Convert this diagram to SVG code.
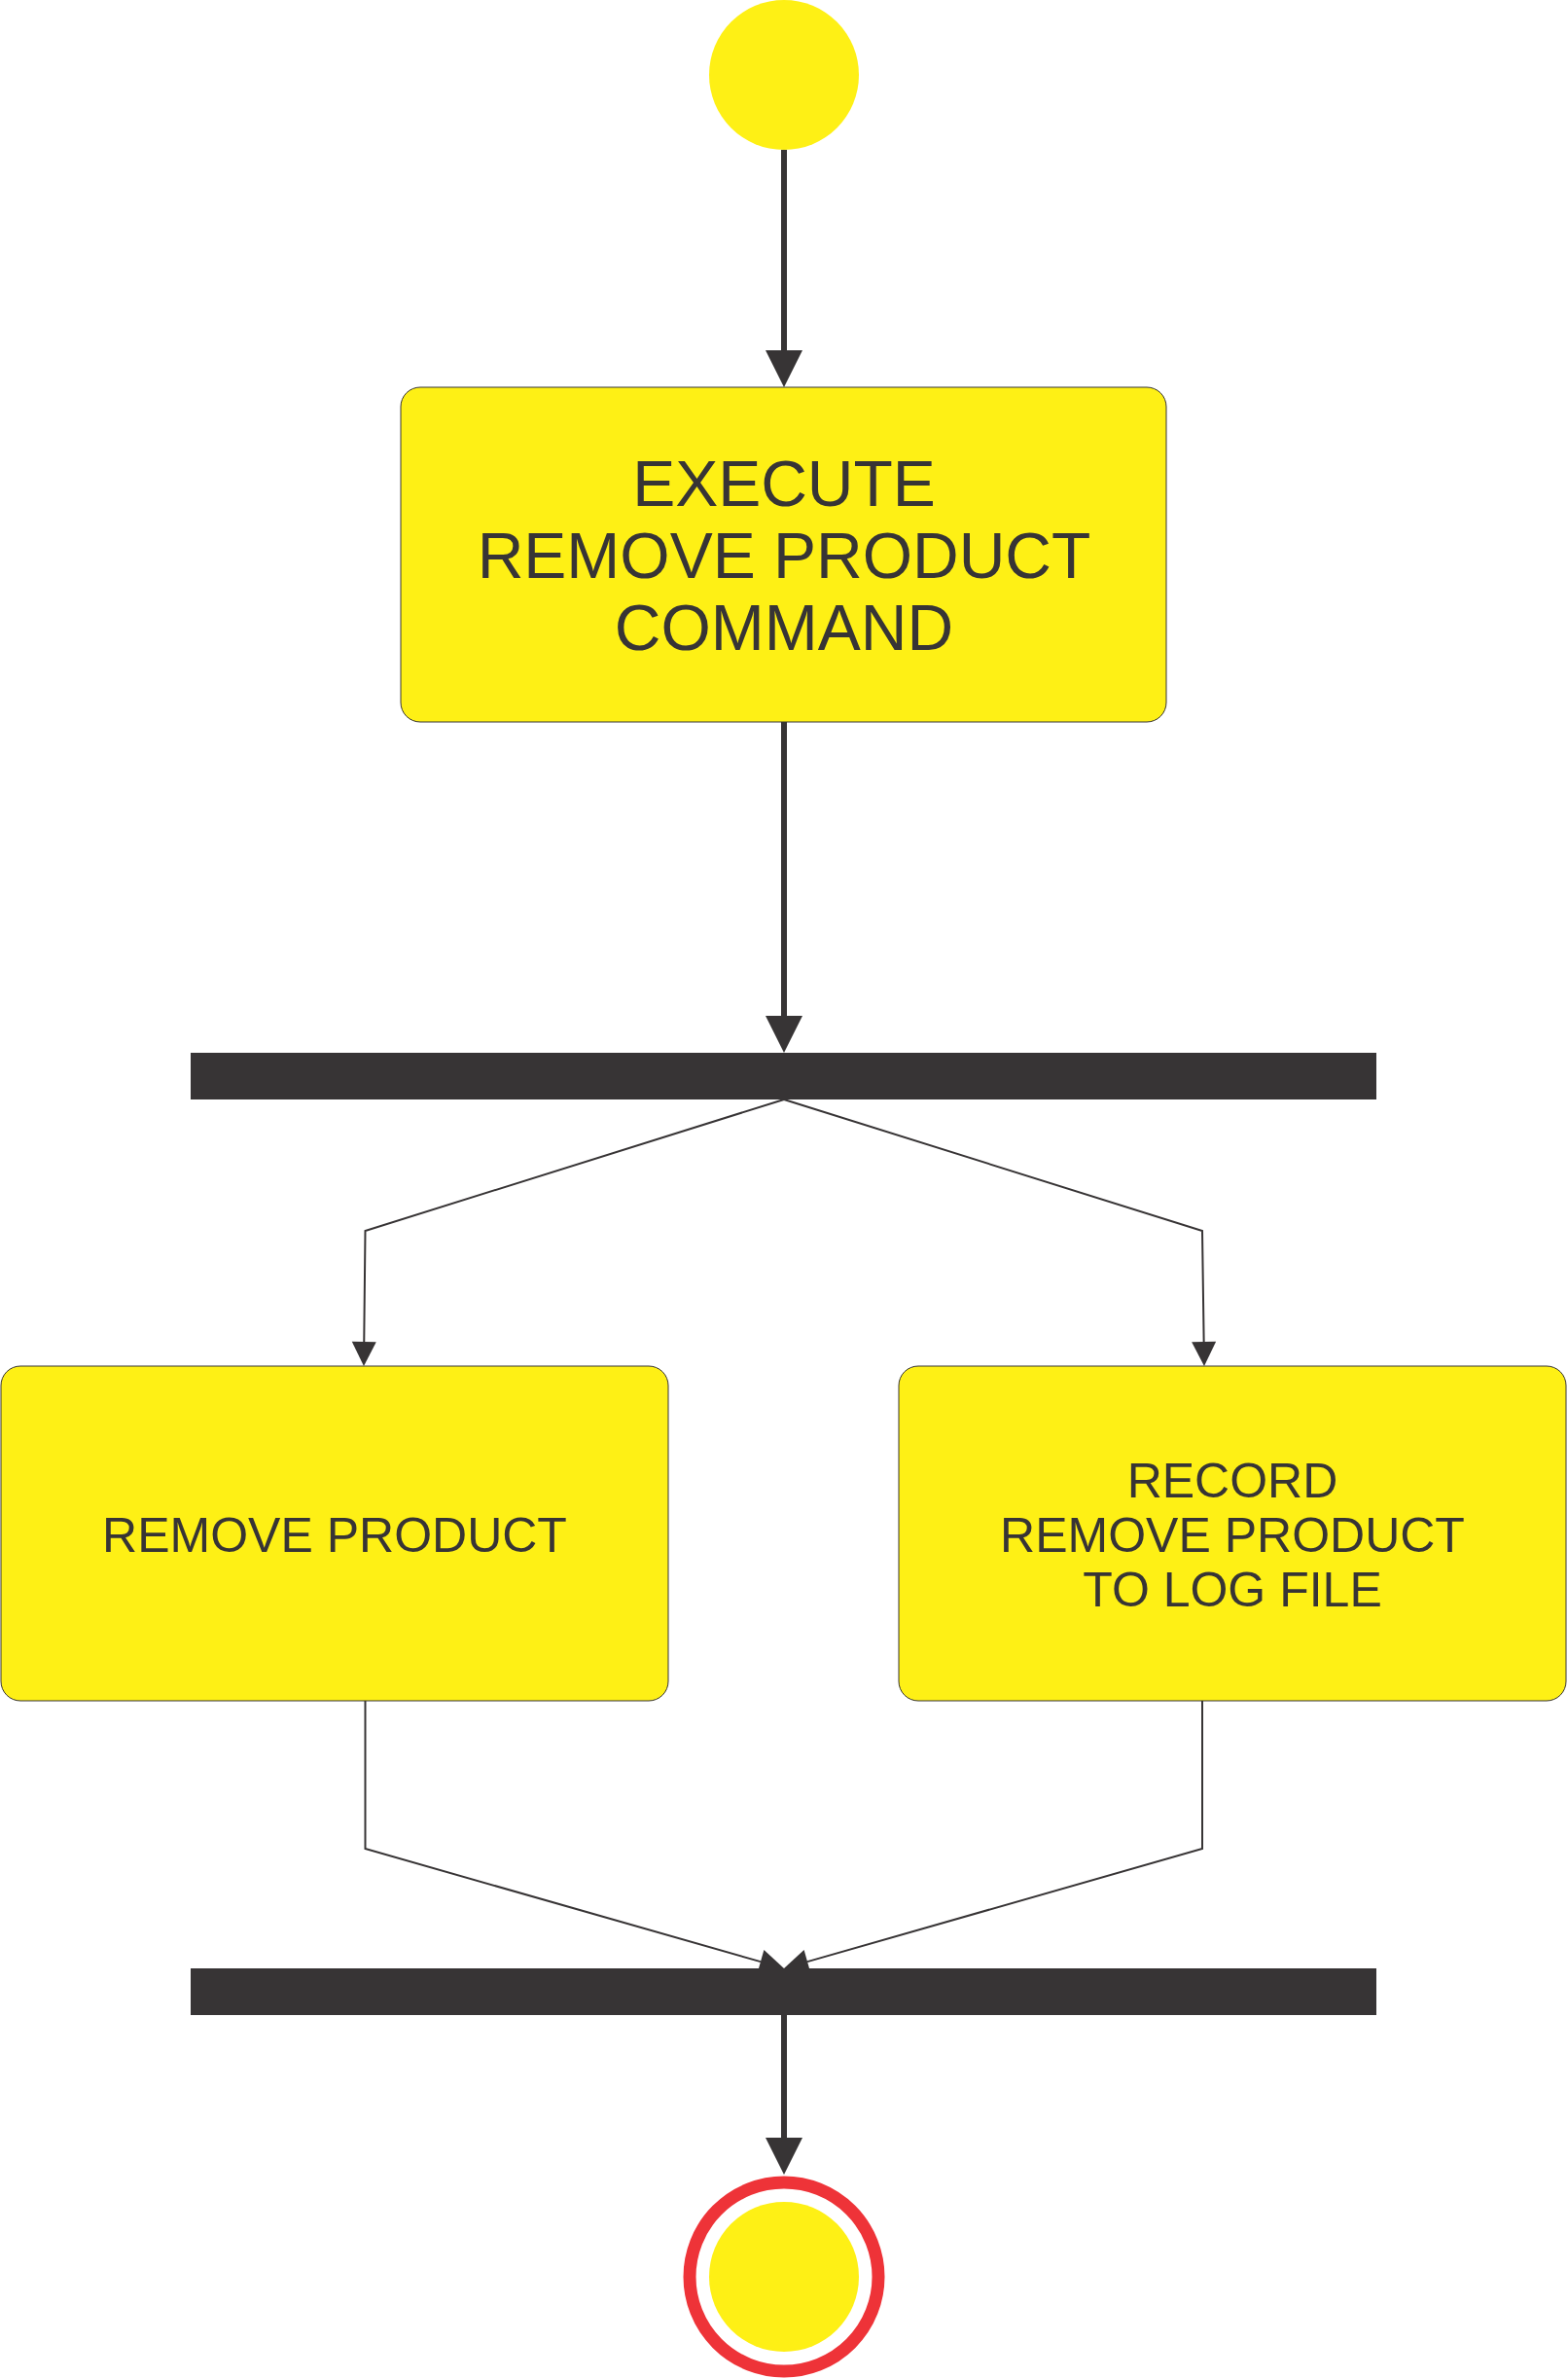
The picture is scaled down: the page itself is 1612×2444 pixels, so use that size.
<svg xmlns="http://www.w3.org/2000/svg" width="1612" height="2444" viewBox="0 0 1612 2444">
  <style>
    .act { fill: #FEF015; stroke: #373435; stroke-width: 1; }
    .bar { fill: #373435; }
    .lbl { font-family: "Liberation Sans", Arial, sans-serif; fill: #373435; text-anchor: middle; }
    .big { font-size: 66px; }
    .mid { font-size: 50px; }
    .thick { fill: none; stroke: #373435; stroke-width: 6; }
    .thin { fill: none; stroke: #373435; stroke-width: 2; }
  </style>
  <defs>
    <marker id="headThick" markerUnits="userSpaceOnUse" markerWidth="38" markerHeight="38" refX="0" refY="19" orient="auto" overflow="visible">
      <path d="M0,0 L38,19 L0,38 Z" fill="#373435"/>
    </marker>
    <marker id="headThin" markerUnits="userSpaceOnUse" markerWidth="25" markerHeight="25" refX="0" refY="12.5" orient="auto" overflow="visible">
      <path d="M0,0 L25,12.5 L0,25 Z" fill="#373435"/>
    </marker>
  </defs>
  <rect x="0" y="0" width="1612" height="2444" fill="#FFFFFF"/>

  <g id="connectors">
    <path class="thick" d="M806,154 L806,360" marker-end="url(#headThick)"/>
    <path class="thick" d="M806,742 L806,1044" marker-end="url(#headThick)"/>
    <path class="thin" d="M806,1130 L375.5,1265 L374.27,1379" marker-end="url(#headThin)"/>
    <path class="thin" d="M806,1130 L1236,1265 L1237.64,1379" marker-end="url(#headThin)"/>
    <path class="thin" d="M375.5,1748 L375.5,1900 L781.96,2016.13" marker-end="url(#headThin)"/>
    <path class="thin" d="M1236,1748 L1236,1900 L830.04,2016.12" marker-end="url(#headThin)"/>
    <path class="thick" d="M806,2071 L806,2197" marker-end="url(#headThick)"/>
  </g>

  <g id="start">
    <circle cx="806" cy="77" r="77" fill="#FEF015"/>
  </g>

  <g id="execute">
    <rect class="act" x="412" y="398" width="787" height="344" rx="20" ry="20"/>
    <text class="lbl big" x="806" y="520">EXECUTE</text>
    <text class="lbl big" x="806" y="594">REMOVE PRODUCT</text>
    <text class="lbl big" x="806" y="668">COMMAND</text>
  </g>

  <g id="fork">
    <rect class="bar" x="196" y="1082" width="1219" height="48"/>
  </g>

  <g id="remove">
    <rect class="act" x="1" y="1404" width="686" height="344" rx="20" ry="20"/>
    <text class="lbl mid" x="344" y="1595">REMOVE PRODUCT</text>
  </g>

  <g id="record">
    <rect class="act" x="924" y="1404" width="686" height="344" rx="20" ry="20"/>
    <text class="lbl mid" x="1267" y="1539">RECORD</text>
    <text class="lbl mid" x="1267" y="1595">REMOVE PRODUCT</text>
    <text class="lbl mid" x="1267" y="1651">TO LOG FILE</text>
  </g>

  <g id="join">
    <rect class="bar" x="196" y="2023" width="1219" height="48"/>
  </g>

  <g id="end">
    <circle cx="806" cy="2340" r="97" fill="#FFFFFF" stroke="#EE3338" stroke-width="13"/>
    <circle cx="806" cy="2340" r="77" fill="#FEF015"/>
  </g>
</svg>
